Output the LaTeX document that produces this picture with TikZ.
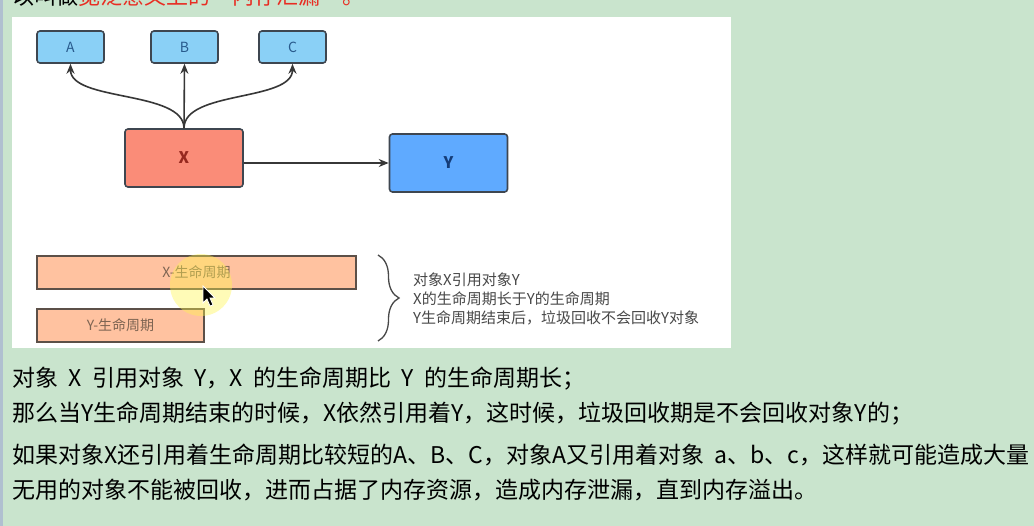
\documentclass[tikz,border=0pt]{standalone}
\usepackage{fontspec}
\usepackage{tikz}
\usetikzlibrary{arrows.meta,decorations.pathreplacing}
\newfontfamily\cjk{Noto Sans CJK SC}
\newcommand{\wgap}{\hspace{.45em}}
\definecolor{pagegreen}{RGB}{201,228,205}
\definecolor{stripblue}{RGB}{176,192,208}
\definecolor{refred}{RGB}{232,45,35}
\definecolor{boxline}{RGB}{62,70,80}
\definecolor{arrowgray}{RGB}{55,55,55}
\definecolor{refblue}{RGB}{138,208,246}
\definecolor{reftext}{RGB}{40,90,140}
\definecolor{xsalmon}{RGB}{250,140,120}
\definecolor{ydeep}{RGB}{95,170,255}
\definecolor{lifepeach}{RGB}{255,194,160}
\definecolor{barline}{RGB}{92,80,72}
\definecolor{lifetext}{RGB}{125,100,82}
\definecolor{notegray}{RGB}{72,72,72}

\begin{document}
\begin{tikzpicture}[x=1pt,y=-1pt,
    objbox/.style={draw=boxline, line width=1.6pt, rounded corners=3pt,
      minimum width=67pt, minimum height=32pt, fill=refblue, text=reftext,
      font=\cjk\fontsize{14}{14}\selectfont},
    bigbox/.style={objbox, minimum width=118pt, minimum height=58pt,
      font=\cjk\bfseries\fontsize{16}{16}\selectfont},
    lifebar/.style={draw=barline, line width=1.6pt, fill=lifepeach, minimum height=33pt,
      text=lifetext, font=\cjk\fontsize{14}{14}\selectfont},
    refarrow/.style={draw=arrowgray, line width=1.6pt, -{Stealth[length=10pt,width=8pt]}},
    para/.style={anchor=base west, inner sep=0pt, font=\cjk\fontsize{23}{24}\selectfont}]
  \useasboundingbox (0,0) rectangle (1034,526);
  \clip (0,0) rectangle (1034,526);
  \fill[pagegreen] (0,0) rectangle (1034,526);
  \fill[stripblue] (0,0) rectangle (3,526);
  \node[para, font=\cjk\fontsize{22}{22}\selectfont] (lead) at (12,5)
    {以叫做\textcolor{refred}{宽泛意义上的“内存泄漏”。}};
  \fill[white] (12,17) rectangle (731,348);

  % objects
  \node[objbox] (A) at (70.5,47) {A};
  \node[objbox] (B) at (184.5,47) {B};
  \node[objbox] (C) at (292.5,47) {C};
  \node[bigbox, fill=xsalmon, text={rgb,255:red,150;green,40;blue,30}] (X) at (184,158) {X};
  \node[bigbox, fill=ydeep, text={rgb,255:red,20;green,60;blue,120}] (Y) at (448.5,163) {Y};
  \draw[refarrow] (X.north) .. controls +(0,-38) and +(0,38) .. (A.south);
  \draw[refarrow] (X.north) -- (B.south);
  \draw[refarrow] (X.north) .. controls +(0,-38) and +(0,38) .. (C.south);
  \draw[refarrow] (X.east |- Y.west) -- (Y.west);

  % lifetimes
  \node[lifebar, minimum width=319pt] (Xlife) at (196.5,272.5) {X-生命周期};
  \node[lifebar, minimum width=167pt] (Ylife) at (120.5,325.5) {Y-生命周期};
  \coordinate (bracetop) at (378,255);
  \coordinate (bracebot) at (378,341);
  \draw[notegray, line width=1.3pt, decorate, decoration={brace, amplitude=21pt}]
    (bracetop) -- (bracebot);
  \node[anchor=west, inner sep=0pt, align=left, text=notegray,
    font=\cjk\fontsize{15}{19}\selectfont] (note) at (413,299)
    {对象X引用对象Y\\X的生命周期长于Y的生命周期\\Y生命周期结束后，垃圾回收不会回收Y对象};

  % pointer
  \fill[yellow!70, opacity=.4] (201,285) circle (31);
  \draw[white, line width=.8pt, fill=black] (203,286) -- (203,303) -- (207,299) -- (210,306)
    -- (213,305) -- (210,298) -- (215,298) -- cycle;

  % text below
  \node[para] (l1) at (12,387)
    {对象\wgap X\wgap 引用对象\wgap Y，X\wgap 的生命周期比\wgap Y\wgap 的生命周期长；};
  \node[para] (l2) at (12,422)
    {那么当Y生命周期结束的时候，X依然引用着Y，这时候，垃圾回收期是不会回收对象Y的；};
  \node[para] (l3) at (12,464)
    {如果对象X还引用着生命周期比较短的A、B、C，对象A又引用着对象\wgap a、b、c，这样就可能造成大量};
  \node[para] (l4) at (12,499)
    {无用的对象不能被回收，进而占据了内存资源，造成内存泄漏，直到内存溢出。};
\end{tikzpicture}
\end{document}
